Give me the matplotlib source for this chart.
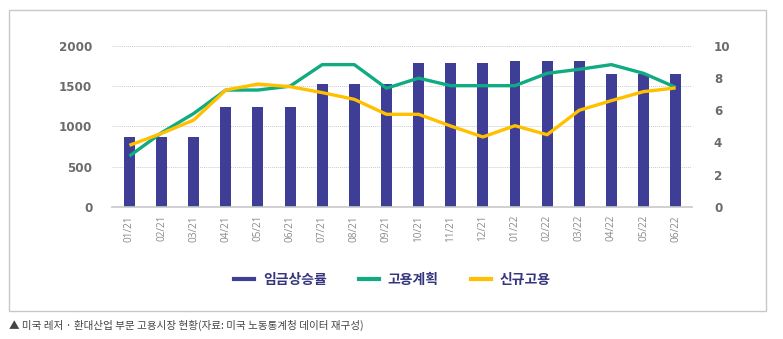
import matplotlib.pyplot as plt
from matplotlib.lines import Line2D
from matplotlib.patches import Rectangle
import numpy as np

plt.rcParams["font.family"] = ["Noto Sans CJK KR", "DejaVu Sans"]

months = ["01/21", "02/21", "03/21", "04/21", "05/21", "06/21", "07/21", "08/21", "09/21",
          "10/21", "11/21", "12/21", "01/22", "02/22", "03/22", "04/22", "05/22", "06/22"]
wage_growth = [870, 870, 870, 1240, 1240, 1240, 1525, 1525, 1525,
               1790, 1790, 1790, 1810, 1810, 1810, 1650, 1650, 1650]
hiring_plan = [3.15, 4.6, 5.8, 7.26, 7.26, 7.5, 8.84, 8.84, 7.37,
               8.0, 7.53, 7.53, 7.53, 8.3, 8.55, 8.84, 8.3, 7.43]
new_hires = [3.82, 4.56, 5.39, 7.26, 7.63, 7.47, 7.1, 6.68, 5.75,
             5.75, 5.02, 4.34, 5.04, 4.48, 6.0, 6.6, 7.16, 7.39]
legend_labels = ["임금상승률", "고용계획", "신규고용"]
caption = "▲ 미국 레저 · 환대산업 부문 고용시장 현황(자료: 미국 노동통계청 데이터 재구성)"

BAR_COLOR = "#3e3e96"
GREEN = "#10ab80"
YELLOW = "#ffc000"
TICK_COLOR = "#6b6b6b"

fig = plt.figure(figsize=(7.83, 3.39), dpi=100)
ax = fig.add_axes([0.1427, 0.3903, 0.7407, 0.474])
ax2 = ax.twinx()

x = np.arange(len(months))
ax.bar(x, wage_growth, width=0.34, color=BAR_COLOR, zorder=2)
ax2.plot(x, hiring_plan, color=GREEN, linewidth=2.4, solid_capstyle="butt")
ax2.plot(x, new_hires, color=YELLOW, linewidth=2.4, solid_capstyle="butt")

ax.set_xlim(-0.55, 17.5)
ax.set_ylim(0, 2000)
ax2.set_ylim(0, 10)
ax.set_yticks([0, 500, 1000, 1500, 2000])
ax2.set_yticks([0, 2, 4, 6, 8, 10])
ax.set_xticks(x)
ax.set_xticklabels(months, rotation=90, fontsize=7.2, color="#8a8a8a",
                   family=["Open Sans", "DejaVu Sans"])

for y in [500, 1000, 1500, 2000]:
    ax.axhline(y, color="#cccccc", linestyle=(0, (1, 1)), linewidth=0.7, zorder=1)

for a in (ax, ax2):
    for s in a.spines.values():
        s.set_visible(False)
    a.tick_params(length=0)
ax.spines["bottom"].set_visible(True)
ax.spines["bottom"].set_color("#c8c8c8")
ax.spines["bottom"].set_linewidth(1.2)
ax.tick_params(axis="y", pad=14, labelsize=8.6, labelcolor=TICK_COLOR)
ax.tick_params(axis="x", pad=6)
ax2.tick_params(axis="y", pad=16, labelsize=8.6, labelcolor=TICK_COLOR)
for lbl in ax.get_yticklabels() + ax2.get_yticklabels():
    lbl.set_fontweight("bold")
    lbl.set_family("DejaVu Sans")

# outer frame
fig.patches.append(Rectangle((0.0115, 0.0826), 0.9665, 0.888, transform=fig.transFigure,
                             fill=False, edgecolor="#c8c8c8", linewidth=1.0))

handles = [Line2D([], [], color=c, linewidth=3) for c in (BAR_COLOR, GREEN, YELLOW)]
leg = fig.legend(handles, legend_labels, loc="center", bbox_to_anchor=(0.501, 0.174), ncol=3,
                 frameon=False, handlelength=1.45, handletextpad=0.65, columnspacing=2.3,
                 prop={"family": ["Noto Sans CJK KR", "DejaVu Sans"], "weight": "bold", "size": 10})
for t in leg.get_texts():
    t.set_color("#35357f")

fig.text(0.0115, 0.041, caption, fontsize=7.6, color="#444444", va="center", ha="left")

fig.savefig("out.png", dpi=100)
